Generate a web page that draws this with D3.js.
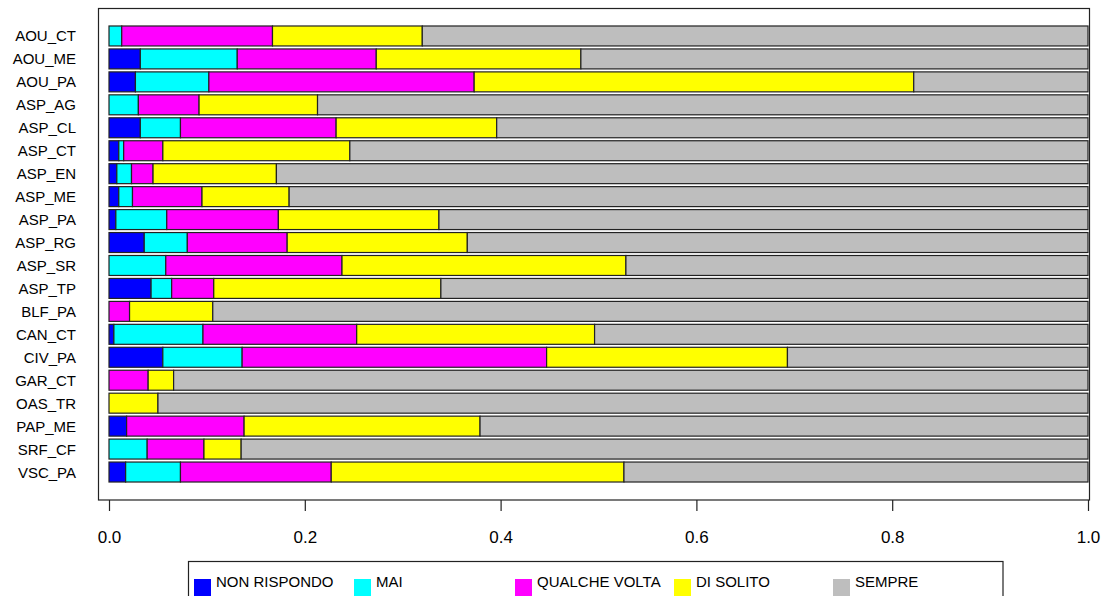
<!DOCTYPE html>
<html>
<head>
<meta charset="utf-8">
<script src="https://cdn.jsdelivr.net/npm/d3@7"></script>
<style>
  html, body { margin: 0; padding: 0; background: #fff; }
  svg { display: block; }
  text { font-family: "Liberation Sans", Arial, sans-serif; fill: #000; }
</style>
</head>
<body>
<svg id="chart" width="1107" height="596"></svg>
<script>
// Structures (top to bottom)
const categories = ["AOU_CT","AOU_ME","AOU_PA","ASP_AG","ASP_CL","ASP_CT","ASP_EN","ASP_ME","ASP_PA","ASP_RG",
                    "ASP_SR","ASP_TP","BLF_PA","CAN_CT","CIV_PA","GAR_CT","OAS_TR","PAP_ME","SRF_CF","VSC_PA"];

// Share of answers per structure, one array per response level
const nonRispondo  = [0.000,0.032,0.027,0.000,0.032,0.010,0.008,0.010,0.007,0.036,0.000,0.043,0.000,0.005,0.055,0.000,0.000,0.018,0.000,0.017];
const mai          = [0.013,0.099,0.075,0.030,0.041,0.005,0.015,0.014,0.052,0.044,0.058,0.021,0.000,0.091,0.081,0.000,0.000,0.000,0.039,0.056];
const qualcheVolta = [0.154,0.142,0.271,0.062,0.159,0.040,0.022,0.071,0.114,0.102,0.180,0.043,0.021,0.157,0.311,0.040,0.000,0.120,0.058,0.154];
const diSolito     = [0.153,0.209,0.449,0.121,0.164,0.191,0.126,0.089,0.164,0.184,0.290,0.232,0.085,0.243,0.246,0.026,0.050,0.241,0.038,0.299];
const sempre       = [0.680,0.518,0.178,0.787,0.604,0.754,0.829,0.816,0.663,0.634,0.472,0.661,0.894,0.504,0.307,0.934,0.950,0.621,0.865,0.474];

const seriesNames  = ["NON RISPONDO","MAI","QUALCHE VOLTA","DI SOLITO","SEMPRE"];
const seriesValues = [nonRispondo, mai, qualcheVolta, diSolito, sempre];
const seriesColors = ["#0000ff","#00ffff","#ff00ff","#ffff00","#bebebe"];

const xTicks = [0, 0.2, 0.4, 0.6, 0.8, 1.0];

const svg = d3.select("#chart");

// Scales
const x = d3.scaleLinear().domain([0, 1]).range([109, 1088]);
const y = d3.scaleBand().domain(categories).range([24.5, 483.5]).paddingInner(0.13).paddingOuter(0.065);

// Rows as objects for stacking
const rows = categories.map((c, i) => {
  const r = { cat: c };
  seriesNames.forEach((s, k) => { r[s] = seriesValues[k][i]; });
  return r;
});
const stacked = d3.stack().keys(seriesNames)(rows);

// Bars
const layers = svg.append("g").selectAll("g")
  .data(stacked)
  .join("g")
  .attr("fill", (d, k) => seriesColors[k]);

layers.selectAll("rect")
  .data(d => d)
  .join("rect")
  .attr("x", d => x(d[0]))
  .attr("y", d => y(d.data.cat))
  .attr("width", d => Math.max(0, x(d[1]) - x(d[0])))
  .attr("height", y.bandwidth())
  .attr("stroke", "#222")
  .attr("stroke-width", 1.2);

// Plot frame
svg.append("rect")
  .attr("x", 98.5).attr("y", 8.5)
  .attr("width", 1089.5 - 98.5).attr("height", 500 - 8.5)
  .attr("fill", "none").attr("stroke", "#222").attr("stroke-width", 1.2);

// Category labels
svg.append("g").selectAll("text")
  .data(categories)
  .join("text")
  .attr("x", 76)
  .attr("y", d => y(d) + y.bandwidth() / 2)
  .attr("text-anchor", "end")
  .attr("dominant-baseline", "central")
  .style("font-size", "15px")
  .text(d => d);

// X axis
const xAxis = d3.axisBottom(x)
  .tickValues(xTicks)
  .tickFormat(d3.format(".1f"))
  .tickSize(11)
  .tickPadding(20);
const gx = svg.append("g").attr("transform", "translate(0,500)").call(xAxis);
gx.select(".domain").remove();
gx.selectAll(".tick line").attr("stroke", "#222").attr("stroke-width", 1.2);
gx.selectAll(".tick text")
  .attr("dy", null)
  .attr("y", 37)
  .attr("dominant-baseline", "central")
  .style("font-family", "\"Liberation Sans\", Arial, sans-serif")
  .style("font-size", "17px")
  .attr("fill", "#000");

// Legend
const legend = svg.append("g");
legend.append("rect")
  .attr("x", 188.5).attr("y", 561.5)
  .attr("width", 1003 - 188.5).attr("height", 50)
  .attr("fill", "#fff").attr("stroke", "#222").attr("stroke-width", 1.2);

const legendX = [194, 354, 515, 674, 833];
const items = legend.selectAll("g.item")
  .data(seriesNames)
  .join("g")
  .attr("class", "item")
  .attr("transform", (d, k) => `translate(${legendX[k]},0)`);
items.append("rect")
  .attr("x", 0).attr("y", 579)
  .attr("width", 17).attr("height", 17)
  .attr("fill", (d, k) => seriesColors[k]);
items.append("text")
  .attr("x", 22).attr("y", 587)
  .style("font-size", "15px")
  .text(d => d);
</script>
</body>
</html>
